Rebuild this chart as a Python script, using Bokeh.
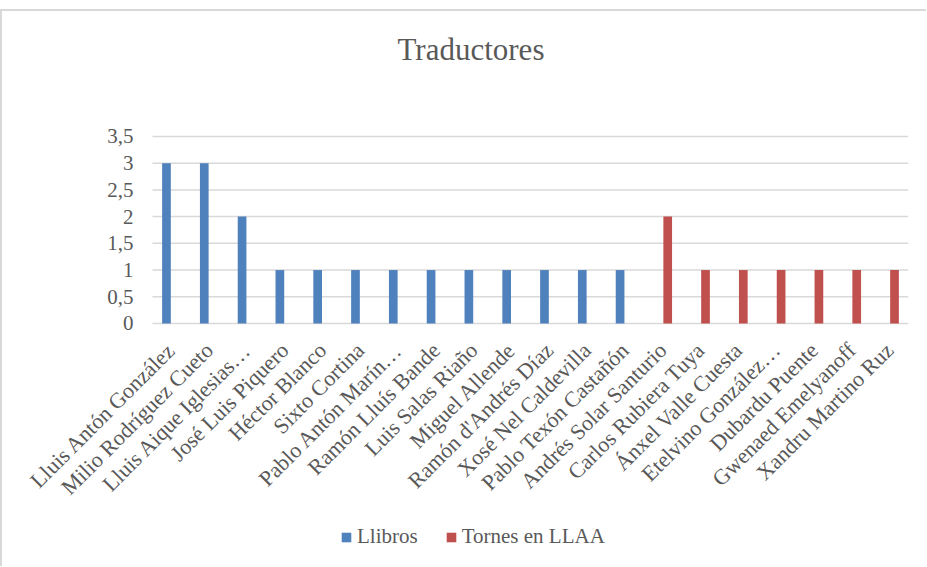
import math
from bokeh.plotting import figure
from bokeh.models import Range1d, FixedTicker, Legend, LegendItem, ColumnDataSource
from bokeh.transform import dodge
from bokeh.embed import file_html
from bokeh.resources import INLINE

categories = [
    "Lluis Antón González",
    "Milio Rodríguez Cueto",
    "Lluis Aique Iglesias…",
    "José Luis Piquero",
    "Héctor Blanco",
    "Sixto Cortina",
    "Pablo Antón Marín…",
    "Ramón Lluís Bande",
    "Luis Salas Riaño",
    "Miguel Allende",
    "Ramón d'Andrés Díaz",
    "Xosé Nel Caldevilla",
    "Pablo Texón Castañón",
    "Andrés Solar Santurio",
    "Carlos Rubiera Tuya",
    "Ánxel Valle Cuesta",
    "Etelvino González…",
    "Dubardu Puente",
    "Gwenaed Emelyanoff",
    "Xandru Martino Ruz",
]
llibros = [3, 3, 2, 1, 1, 1, 1, 1, 1, 1, 1, 1, 1, 0, 0, 0, 0, 0, 0, 0]
tornes = [0, 0, 0, 0, 0, 0, 0, 0, 0, 0, 0, 0, 0, 2, 1, 1, 1, 1, 1, 1]
series_names = ["Llibros", "Tornes en LLAA"]
y_ticks = [0, 0.5, 1, 1.5, 2, 2.5, 3, 3.5]
y_tick_labels = ["0", "0,5", "1", "1,5", "2", "2,5", "3", "3,5"]

FONT = "Liberation Serif"
TEXT = "#595959"
GRID = "#d9d9d9"

idx = list(range(len(categories)))
cat_lo = idx[0] - 0.5
cat_hi = idx[-1] + 0.5
src = ColumnDataSource(dict(idx=idx, cat=categories, llibros=llibros, tornes=tornes))
grid_src = ColumnDataSource(dict(y=y_ticks, x0=[cat_lo] * len(y_ticks), x1=[cat_hi] * len(y_ticks)))

# Frame extended left (room for the slanted labels), up (title) and down (legend).
p = figure(
    x_range=Range1d(cat_lo - 3.280, cat_hi),
    y_range=Range1d(-4.548, 4.716),
    frame_width=880, frame_height=495,
    output_backend="svg", toolbar_location=None,
    min_border_left=26, min_border_right=18,
    min_border_top=60, min_border_bottom=0,
    title="Traductores",
)
p.margin = (9, 0, 0, 0)
p.styles = {"border-top": "2px solid #d9d9d9", "border-left": "2px solid #d9d9d9"}

p.title.text_font = FONT
p.title.text_font_size = "31px"
p.title.text_font_style = "normal"
p.title.text_color = TEXT
p.title.align = "left"
p.title.offset = 369
p.title.standoff = 10

p.outline_line_color = None
p.background_fill_color = "white"
p.border_fill_color = "white"

p.xgrid.grid_line_color = None
p.ygrid.grid_line_color = None
p.segment(x0="x0", y0="y", x1="x1", y1="y", source=grid_src,
          line_color=GRID, line_width=1.5)

r1 = p.vbar(x=dodge("idx", -0.13), top="llibros", width=0.23,
            source=src, fill_color="#4f81bd", line_color=None)
r2 = p.vbar(x=dodge("idx", 0.13), top="tornes", width=0.23,
            source=src, fill_color="#c0504d", line_color=None)

p.xaxis.ticker = FixedTicker(ticks=idx)
p.xaxis.major_label_overrides = dict(zip(idx, categories))
p.xaxis.fixed_location = 0
p.xaxis.bounds = (cat_lo, cat_hi)
p.xaxis.major_label_orientation = math.pi / 4
p.xaxis.major_label_text_font = FONT
p.xaxis.major_label_text_font_size = "22px"
p.xaxis.major_label_text_color = TEXT
p.xaxis.axis_line_color = None
p.xaxis.major_tick_line_color = None
p.xaxis.minor_tick_line_color = None
p.xaxis.major_label_standoff = 17

p.yaxis.ticker = FixedTicker(ticks=y_ticks)
p.yaxis.major_label_overrides = dict(zip(y_ticks, y_tick_labels))
p.yaxis.fixed_location = cat_lo - 0.5
p.yaxis.major_label_text_font = FONT
p.yaxis.major_label_text_font_size = "21px"
p.yaxis.major_label_text_color = TEXT
p.yaxis.axis_line_color = None
p.yaxis.major_tick_line_color = None
p.yaxis.minor_tick_line_color = None
p.yaxis.major_tick_out = 0
p.yaxis.major_tick_in = 0
p.yaxis.major_label_standoff = 0

legend = Legend(
    items=[LegendItem(label=series_names[0], renderers=[r1]),
           LegendItem(label=series_names[1], renderers=[r2])],
    orientation="horizontal", location=(312, 17),
    glyph_width=12, glyph_height=12, label_standoff=5, spacing=27,
    padding=0, margin=0, border_line_color=None, background_fill_alpha=0,
    label_text_font=FONT, label_text_font_size="21px", label_text_color=TEXT,
)
p.add_layout(legend, "center")

open("out.html", "w").write(file_html(p, INLINE))
